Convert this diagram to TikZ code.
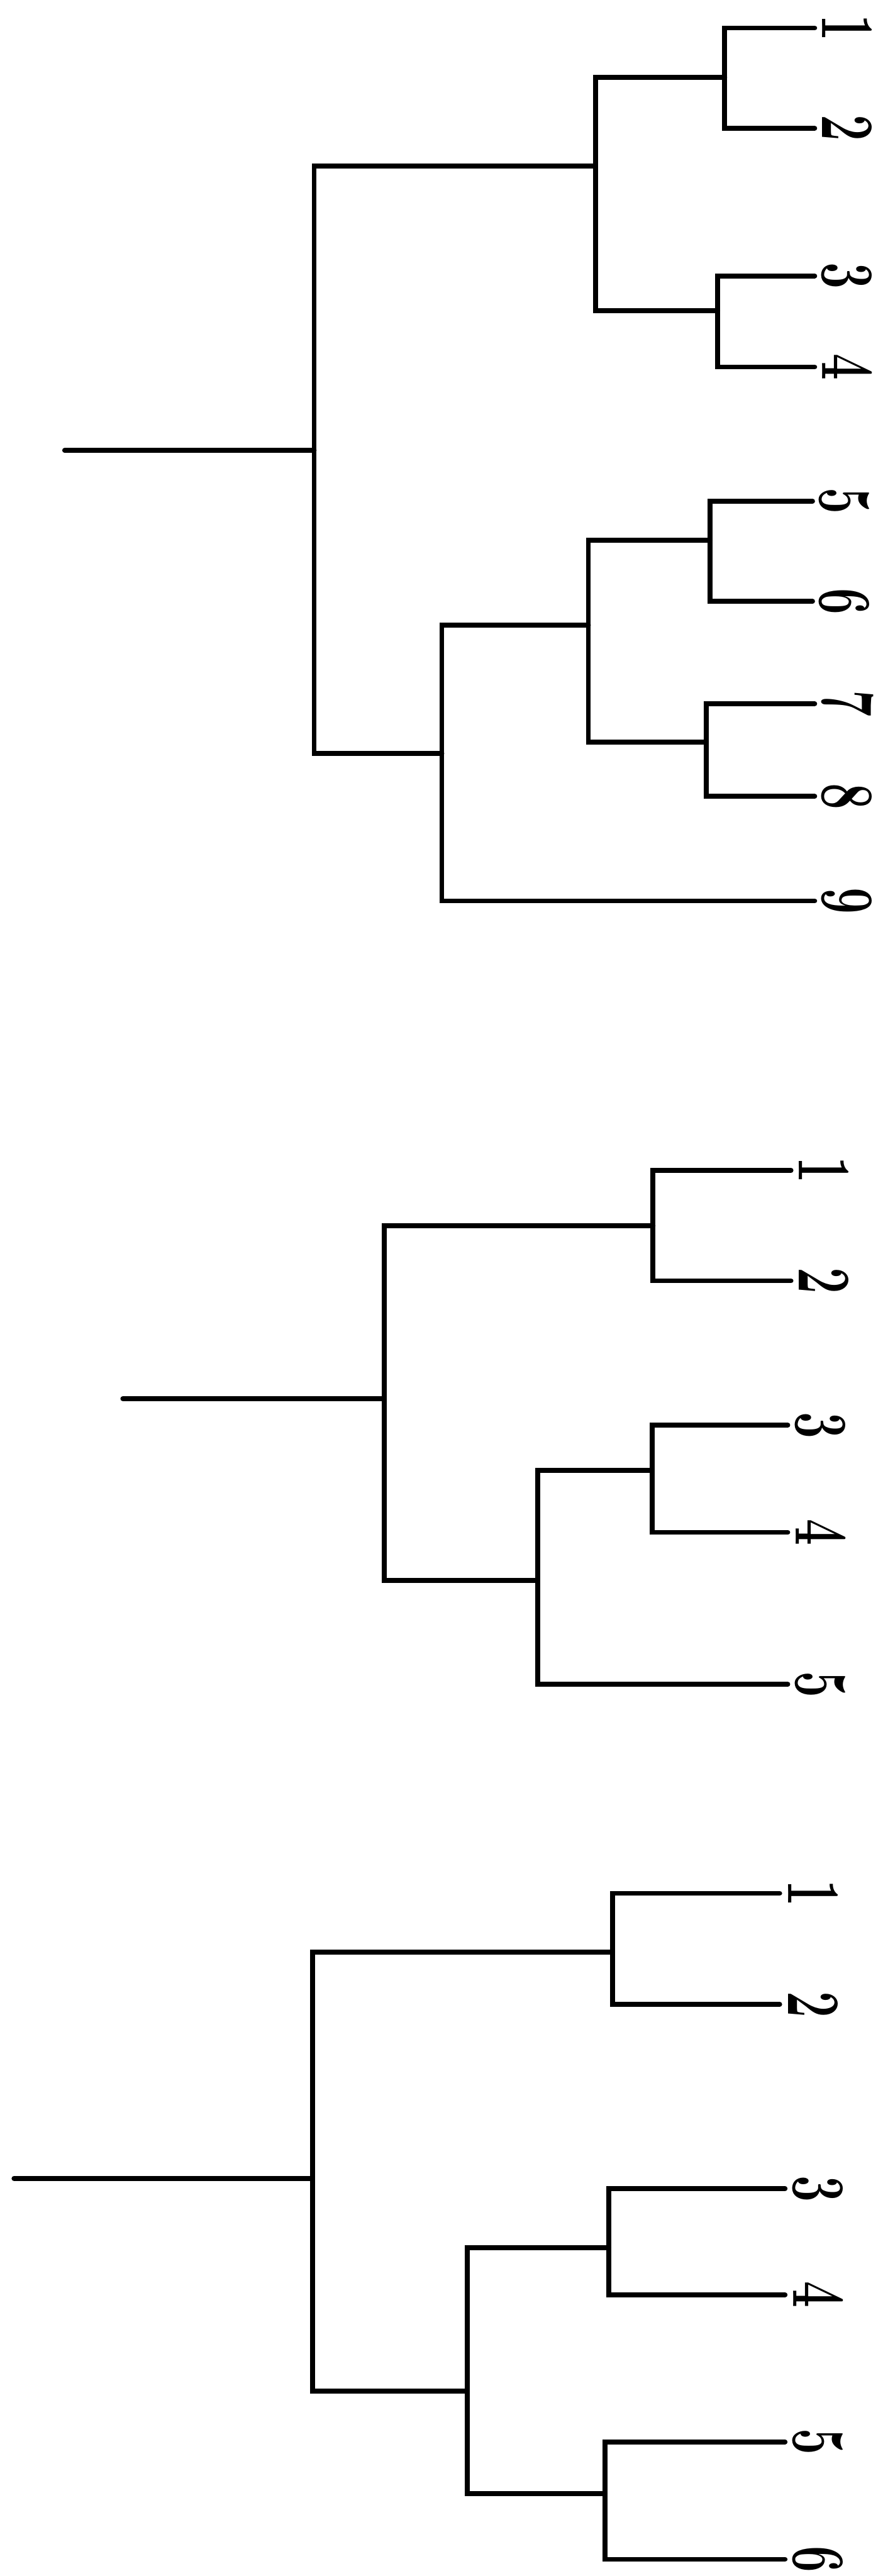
\documentclass[tikz,border=0pt]{standalone}
\usepackage{tikz}

% narrow figures at the leaf ends
\newcommand{\leafno}[1]{\scalebox{0.62}[1]{#1}}

\begin{document}
\begin{tikzpicture}[
        branch/.style={line width=2.6pt, line cap=round},
        num/.style={anchor=base, rotate=-90, inner sep=0pt, font=\fontsize{40}{40}\selectfont\bfseries}]
    \useasboundingbox (0,0) rectangle (16.38,-47.81);

    % nine leaves
    \coordinate (a0) at (1.20,-8.36);
    \coordinate (ar) at (5.83,-8.36);
    \coordinate (au) at (11.05,-3.08);
    \coordinate (a12) at (13.45,-1.44);
    \coordinate (a34) at (13.32,-5.77);
    \coordinate (al) at (8.20,-13.98);
    \coordinate (a58) at (10.92,-11.60);
    \coordinate (a56) at (13.18,-10.03);
    \coordinate (a78) at (13.11,-13.77);
    \coordinate (a1) at (15.12,-0.52);
    \coordinate (a2) at (15.12,-2.38);
    \coordinate (a3) at (15.12,-5.12);
    \coordinate (a4) at (15.12,-6.81);
    \coordinate (a5) at (15.08,-9.30);
    \coordinate (a6) at (15.08,-11.16);
    \coordinate (a7) at (15.12,-13.06);
    \coordinate (a8) at (15.12,-14.78);
    \coordinate (a9) at (15.12,-16.72);

    \draw[branch] (a0) -- (ar);
    \foreach \p/\c in {ar/au, ar/al, au/a12, au/a34, a12/a1, a12/a2, a34/a3, a34/a4,
                       al/a58, al/a9, a58/a56, a58/a78, a56/a5, a56/a6, a78/a7, a78/a8}
        \draw[branch] (\p) |- (\c);
    \foreach \i in {1,...,9}
        \node[num] (a\i n) at ([xshift=1.4mm]a\i) {\leafno{\i}};

    % five leaves
    \coordinate (b0) at (2.28,-25.96);
    \coordinate (br) at (7.13,-25.96);
    \coordinate (bu) at (12.12,-22.75);
    \coordinate (bl) at (9.98,-29.33);
    \coordinate (b34) at (12.10,-27.29);
    \coordinate (b1) at (14.68,-21.72);
    \coordinate (b2) at (14.68,-23.77);
    \coordinate (b3) at (14.62,-26.45);
    \coordinate (b4) at (14.62,-28.44);
    \coordinate (b5) at (14.62,-31.26);

    \draw[branch] (b0) -- (br);
    \foreach \p/\c in {br/bu, br/bl, bu/b1, bu/b2, bl/b34, bl/b5, b34/b3, b34/b4}
        \draw[branch] (\p) |- (\c);
    \foreach \i in {1,...,5}
        \node[num] (b\i n) at ([xshift=1.5mm]b\i) {\leafno{\i}};

    % six leaves
    \coordinate (c0) at (0.26,-40.43);
    \coordinate (cr) at (5.80,-40.43);
    \coordinate (cu) at (11.37,-36.23);
    \coordinate (cl) at (8.67,-44.38);
    \coordinate (c34) at (11.30,-41.72);
    \coordinate (c56) at (11.23,-46.28);
    \coordinate (c1) at (14.47,-35.14);
    \coordinate (c2) at (14.47,-37.20);
    \coordinate (c3) at (14.57,-40.62);
    \coordinate (c4) at (14.57,-42.59);
    \coordinate (c5) at (14.57,-45.32);
    \coordinate (c6) at (14.57,-47.50);

    \draw[branch] (c0) -- (cr);
    \foreach \p/\c in {cr/cu, cr/cl, cu/c1, cu/c2, cl/c34, cl/c56, c34/c3, c34/c4, c56/c5, c56/c6}
        \draw[branch] (\p) |- (\c);
    \foreach \i in {1,...,6}
        \node[num] (c\i n) at ([xshift=1.6mm]c\i) {\leafno{\i}};
\end{tikzpicture}
\end{document}
